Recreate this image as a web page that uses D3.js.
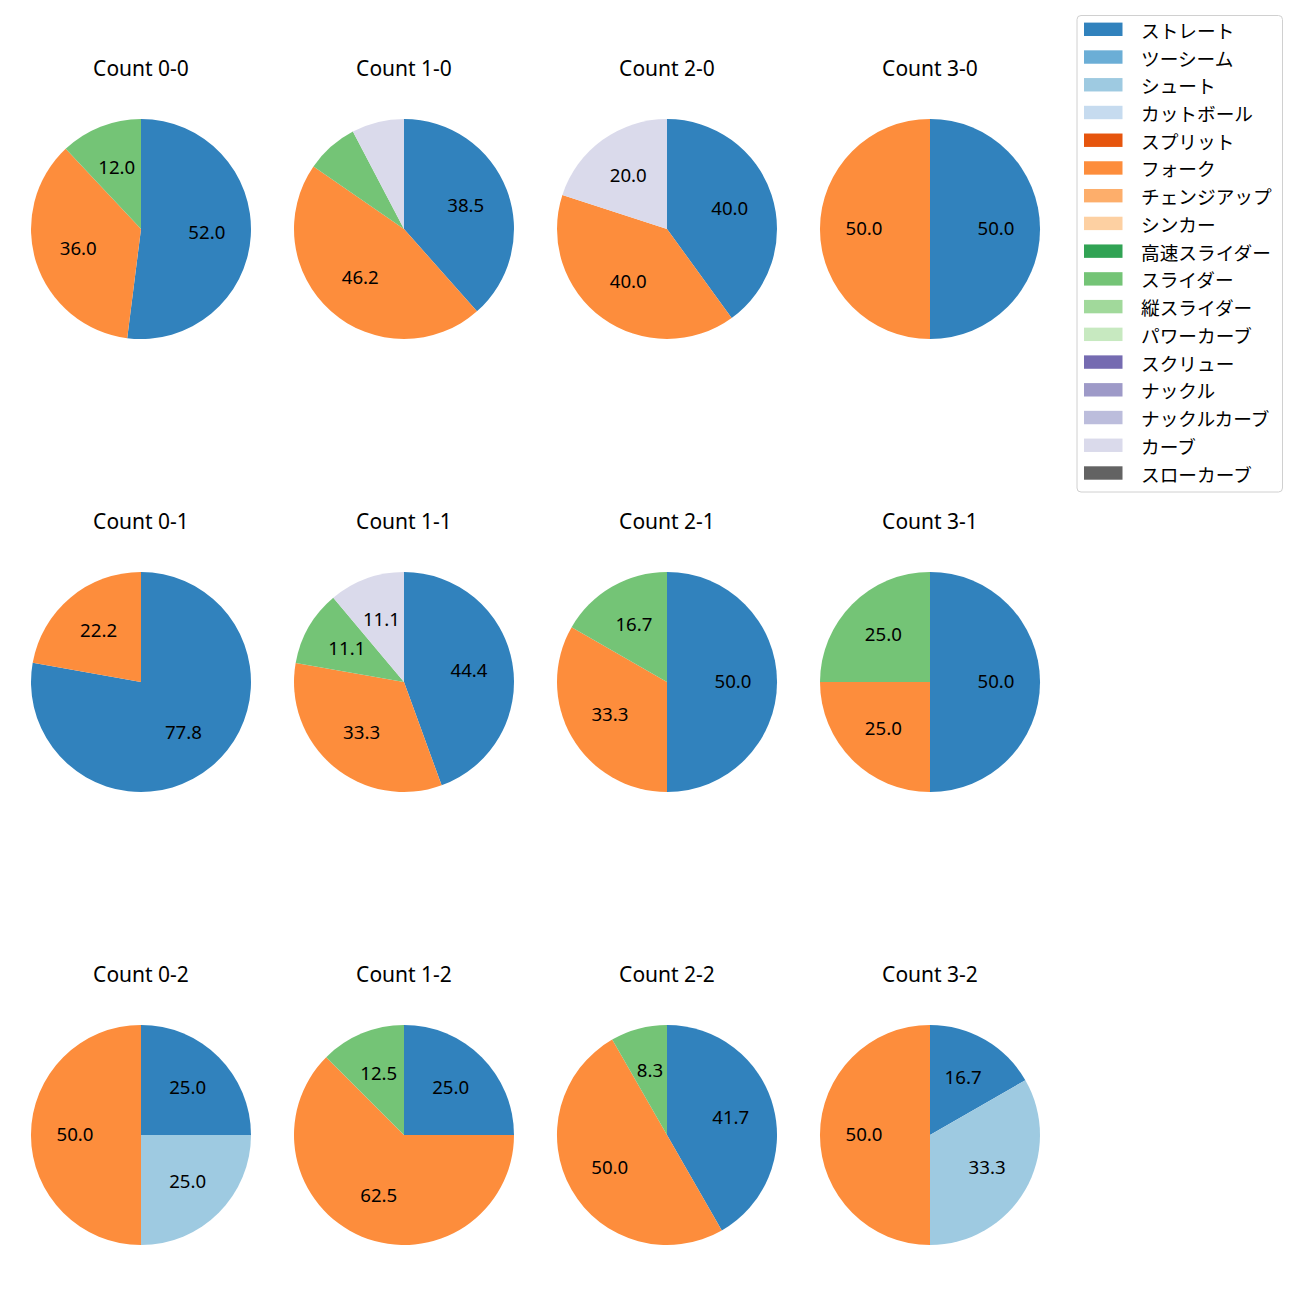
<!DOCTYPE html>
<html>
<head>
<meta charset="utf-8">
<script src="https://cdn.jsdelivr.net/npm/d3@7"></script>
<style>
  html, body { margin: 0; padding: 0; background: #fff; }
  svg { display: block; font-family: "Noto Sans CJK JP", "Noto Sans", sans-serif; }
  .latin { font-family: "Noto Sans", "Noto Sans CJK JP", sans-serif; }
</style>
</head>
<body>
<svg id="chart" width="1300" height="1300"></svg>
<script>
// ---- data ----
const pitchTypes = ["ストレート","ツーシーム","シュート","カットボール","スプリット","フォーク","チェンジアップ","シンカー","高速スライダー","スライダー","縦スライダー","パワーカーブ","スクリュー","ナックル","ナックルカーブ","カーブ","スローカーブ"];
const pitchColors = ["#3182bd","#6baed6","#9ecae1","#c6dbef","#e6550d","#fd8d3c","#fdae6b","#fdd0a2","#31a354","#74c476","#a1d99b","#c7e9c0","#756bb1","#9e9ac8","#bcbddc","#dadaeb","#636363"];
const countTitles = ["Count 0-0","Count 1-0","Count 2-0","Count 3-0","Count 0-1","Count 1-1","Count 2-1","Count 3-1","Count 0-2","Count 1-2","Count 2-2","Count 3-2"];

const pie00 = [["ストレート",52.0],["フォーク",36.0],["スライダー",12.0]];
const pie10 = [["ストレート",38.5],["フォーク",46.2],["スライダー",7.7],["カーブ",7.7]];
const pie20 = [["ストレート",40.0],["フォーク",40.0],["カーブ",20.0]];
const pie30 = [["ストレート",50.0],["フォーク",50.0]];
const pie01 = [["ストレート",77.8],["フォーク",22.2]];
const pie11 = [["ストレート",44.4],["フォーク",33.3],["スライダー",11.1],["カーブ",11.1]];
const pie21 = [["ストレート",50.0],["フォーク",33.3],["スライダー",16.7]];
const pie31 = [["ストレート",50.0],["フォーク",25.0],["スライダー",25.0]];
const pie02 = [["ストレート",25.0],["シュート",25.0],["フォーク",50.0]];
const pie12 = [["ストレート",25.0],["フォーク",62.5],["スライダー",12.5]];
const pie22 = [["ストレート",41.7],["フォーク",50.0],["スライダー",8.3]];
const pie32 = [["ストレート",16.7],["シュート",33.3],["フォーク",50.0]];
const pieData = [pie00,pie10,pie20,pie30,pie01,pie11,pie21,pie31,pie02,pie12,pie22,pie32];

// ---- layout ----
const svg = d3.select("#chart");
const colX = [141, 404, 667, 930];
const rowY = [229, 682, 1135];
const R = 110;
const color = d3.scaleOrdinal().domain(pitchTypes).range(pitchColors);

const pieGen = d3.pie().sort(null).value(d => d[1]);
const arcGen = d3.arc().innerRadius(0).outerRadius(R);
const labelArc = d3.arc().innerRadius(R * 0.6).outerRadius(R * 0.6);

pieData.forEach((data, i) => {
  const cx = colX[i % 4], cy = rowY[Math.floor(i / 4)];
  const g = svg.append("g").attr("transform", `translate(${cx},${cy})`);
  const total = d3.sum(data, d => d[1]);
  const arcs = pieGen(data);
  g.selectAll("path").data(arcs).enter().append("path")
    .attr("d", arcGen)
    .attr("fill", d => color(d.data[0]));
  g.selectAll("text.lbl").data(arcs.filter(d => d.data[1] / total * 100 >= 8)).enter()
    .append("text").attr("class", "lbl latin")
    .attr("transform", d => { const c = labelArc.centroid(d); return `translate(${c[0]},${c[1] - 1.5})`; })
    .attr("text-anchor", "middle")
    .attr("dominant-baseline", "central")
    .attr("font-size", 18.67)
    .attr("fill", "#000")
    .text(d => (d.data[1] / total * 100).toFixed(1));
  svg.append("text").attr("class", "latin")
    .attr("x", cx).attr("y", cy - 161)
    .attr("text-anchor", "middle")
    .attr("dominant-baseline", "central")
    .attr("font-size", 21)
    .attr("fill", "#000")
    .text(countTitles[i]);
});

// ---- legend ----
const lg = svg.append("g");
lg.append("rect")
  .attr("x", 1077).attr("y", 15.5).attr("width", 205.5).attr("height", 476.5)
  .attr("rx", 4).attr("fill", "#fff").attr("stroke", "#d0d0d0").attr("stroke-width", 1);
const ly = d3.scaleLinear().domain([0, pitchTypes.length - 1]).range([29.3, 473]);
pitchTypes.forEach((t, i) => {
  lg.append("rect").attr("x", 1084).attr("y", ly(i) - 6.7).attr("width", 38.5).attr("height", 13.4)
    .attr("fill", color(t));
  lg.append("text").attr("x", 1141).attr("y", ly(i))
    .attr("dominant-baseline", "central")
    .attr("font-size", 18.67).attr("fill", "#000").text(t);
});
</script>
</body>
</html>
